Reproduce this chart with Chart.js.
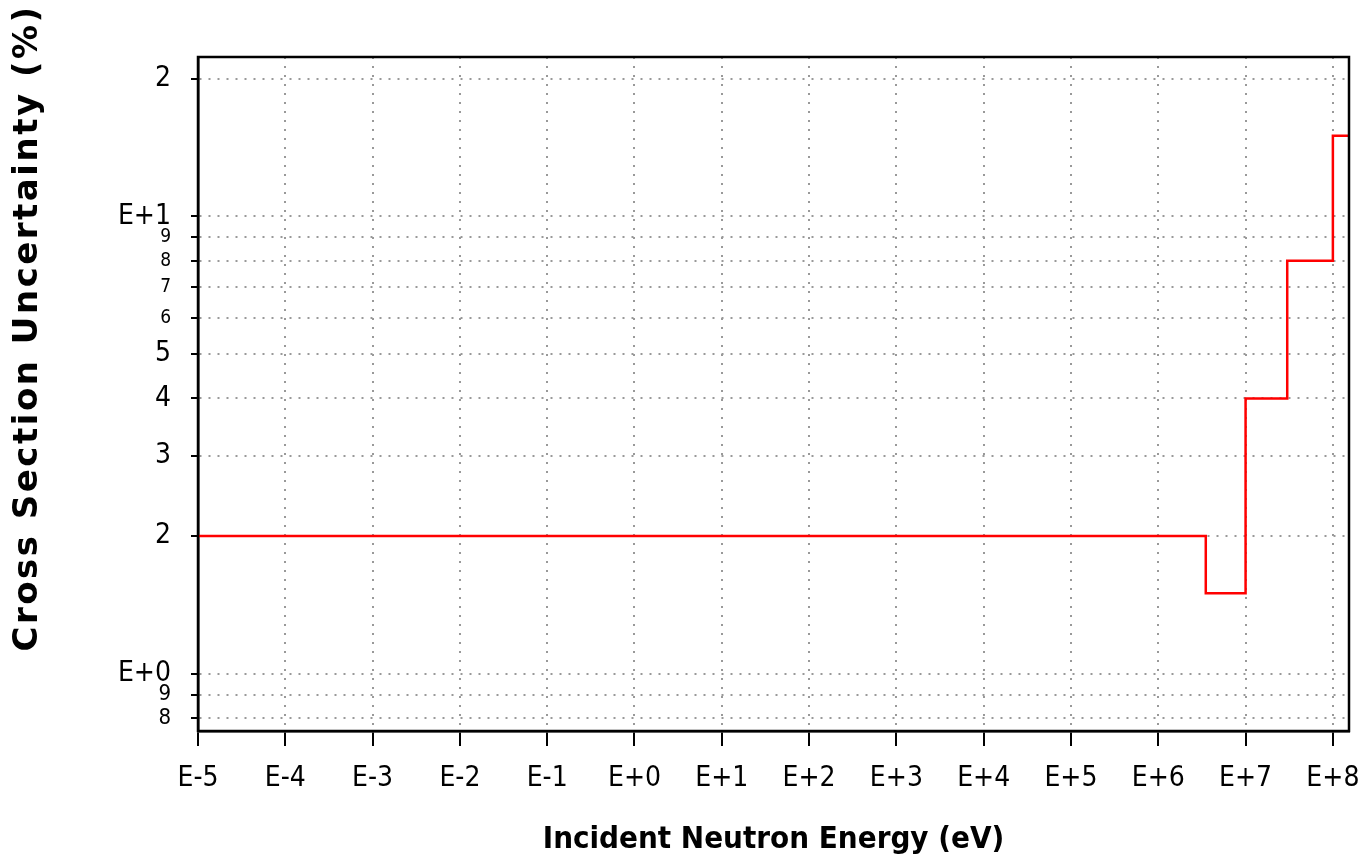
<!DOCTYPE html>
<html>
<head>
<meta charset="utf-8">
<title>Cross Section Uncertainty</title>
<script src="https://cdn.jsdelivr.net/npm/chart.js@4.4.1/dist/chart.umd.min.js"></script>
<style>
  html, body { margin: 0; padding: 0; background: #fff; }
  #wrap { width: 1364px; height: 862px; position: relative; }
</style>
</head>
<body>
<div id="wrap"><canvas id="uncChart"></canvas></div>
<script>
// step boundaries (eV) and the uncertainty (%) that starts at each one
var energies = [1e-5, 3.5e6, 1e7, 3e7, 1e8, 1.53e8];
var uncertainty = [2, 1.5, 4, 8, 15, 15];

// tick positions
var xTicks = [1e-5, 1e-4, 1e-3, 1e-2, 1e-1, 1, 1e1, 1e2, 1e3, 1e4, 1e5, 1e6, 1e7, 1e8];
var yTicks = [0.8, 0.9, 1, 2, 3, 4, 5, 6, 7, 8, 9, 10, 20];
var ySmallTicks = [6, 7, 8, 9];

var tickFont = "'DejaVu Sans Condensed', 'DejaVu Sans', sans-serif";
var titleFont = "'DejaVu Sans Condensed', 'DejaVu Sans', sans-serif";

function expLabel(v) {
    var e = Math.round(Math.log10(v));
    return "E" + (e < 0 ? "-" : "+") + Math.abs(e);
}

// frame round the plot area
var frame = {
    id: "frame",
    afterDraw: function(chart) {
        var a = chart.chartArea, ctx = chart.ctx;
        ctx.save();
        ctx.strokeStyle = "#000";
        ctx.lineWidth = 2.5;
        ctx.strokeRect(a.left, a.top, a.right - a.left, a.bottom - a.top);
        ctx.restore();
    }
};

// vertical axis title, placed higher than the axis centre
var yTitle = {
    id: "yTitle",
    afterDraw: function(chart) {
        var ctx = chart.ctx;
        ctx.save();
        ctx.translate(28, 328);
        ctx.rotate(-Math.PI / 2);
        ctx.font = "bold 34px 'DejaVu Sans', sans-serif";
        ctx.letterSpacing = "2.5px";
        ctx.fillStyle = "#000";
        ctx.textAlign = "center";
        ctx.textBaseline = "middle";
        ctx.fillText("Cross Section Uncertainty (%)", 0, 0);
        ctx.restore();
    }
};

var points = energies.map(function(e, i) { return { x: e, y: uncertainty[i] }; });

var ctx = document.getElementById("uncChart").getContext("2d");
window.uncChart = new Chart(ctx, {
    type: "line",
    data: {
        datasets: [{
            data: points,
            borderColor: "#ff0000",
            borderWidth: 2.5,
            pointRadius: 0,
            fill: false,
            stepped: "before"
        }]
    },
    options: {
        responsive: true,
        maintainAspectRatio: false,
        animation: false,
        layout: { padding: { top: 57, right: 15, bottom: 0, left: 0 } },
        plugins: {
            legend: { display: false },
            tooltip: { enabled: false }
        },
        scales: {
            x: {
                type: "logarithmic",
                min: 1e-5,
                max: 1.53e8,
                afterBuildTicks: function(axis) {
                    axis.ticks = xTicks.map(function(v) { return { value: v }; });
                },
                afterFit: function(axis) {
                    axis.height = 131;
                    axis.paddingLeft = 0;
                    axis.paddingRight = 0;
                },
                grid: {
                    color: "#999",
                    lineWidth: 2,
                    drawTicks: true,
                    tickLength: 15,
                    tickColor: "#000",
                    tickWidth: 2
                },
                border: { display: true, color: "#000", width: 2.5, dash: [2, 7] },
                ticks: {
                    autoSkip: false,
                    maxRotation: 0,
                    padding: 16,
                    color: "#000",
                    font: { family: tickFont, size: 28 },
                    callback: function(v) { return expLabel(v); }
                },
                title: {
                    display: true,
                    text: "Incident Neutron Energy (eV)",
                    color: "#000",
                    font: { family: titleFont, size: 31, weight: "bold" },
                    padding: { top: 0, bottom: 3 }
                }
            },
            y: {
                type: "logarithmic",
                min: 0.75,
                max: 22.3,
                afterBuildTicks: function(axis) {
                    axis.ticks = yTicks.map(function(v) { return { value: v }; });
                },
                afterFit: function(axis) { axis.width = 198; },
                grid: {
                    color: "#999",
                    lineWidth: 2,
                    drawTicks: true,
                    tickLength: 7,
                    tickColor: "#000",
                    tickWidth: 2
                },
                border: { display: true, color: "#000", width: 2.5, dash: [2, 7] },
                ticks: {
                    autoSkip: false,
                    padding: 20,
                    color: "#000",
                    font: function(c) {
                        var v = c.tick ? c.tick.value : 0;
                        if (ySmallTicks.indexOf(v) >= 0) return { family: tickFont, size: 19 };
                        if (v < 1) return { family: tickFont, size: 22 };
                        return { family: tickFont, size: 28 };
                    },
                    callback: function(v) {
                        if (v === 1 || v === 10) return expLabel(v);
                        var p = Math.pow(10, Math.floor(Math.log10(v) + 1e-9));
                        return String(Math.round(v / p));
                    }
                }
            }
        }
    },
    plugins: [frame, yTitle]
});
</script>
</body>
</html>
